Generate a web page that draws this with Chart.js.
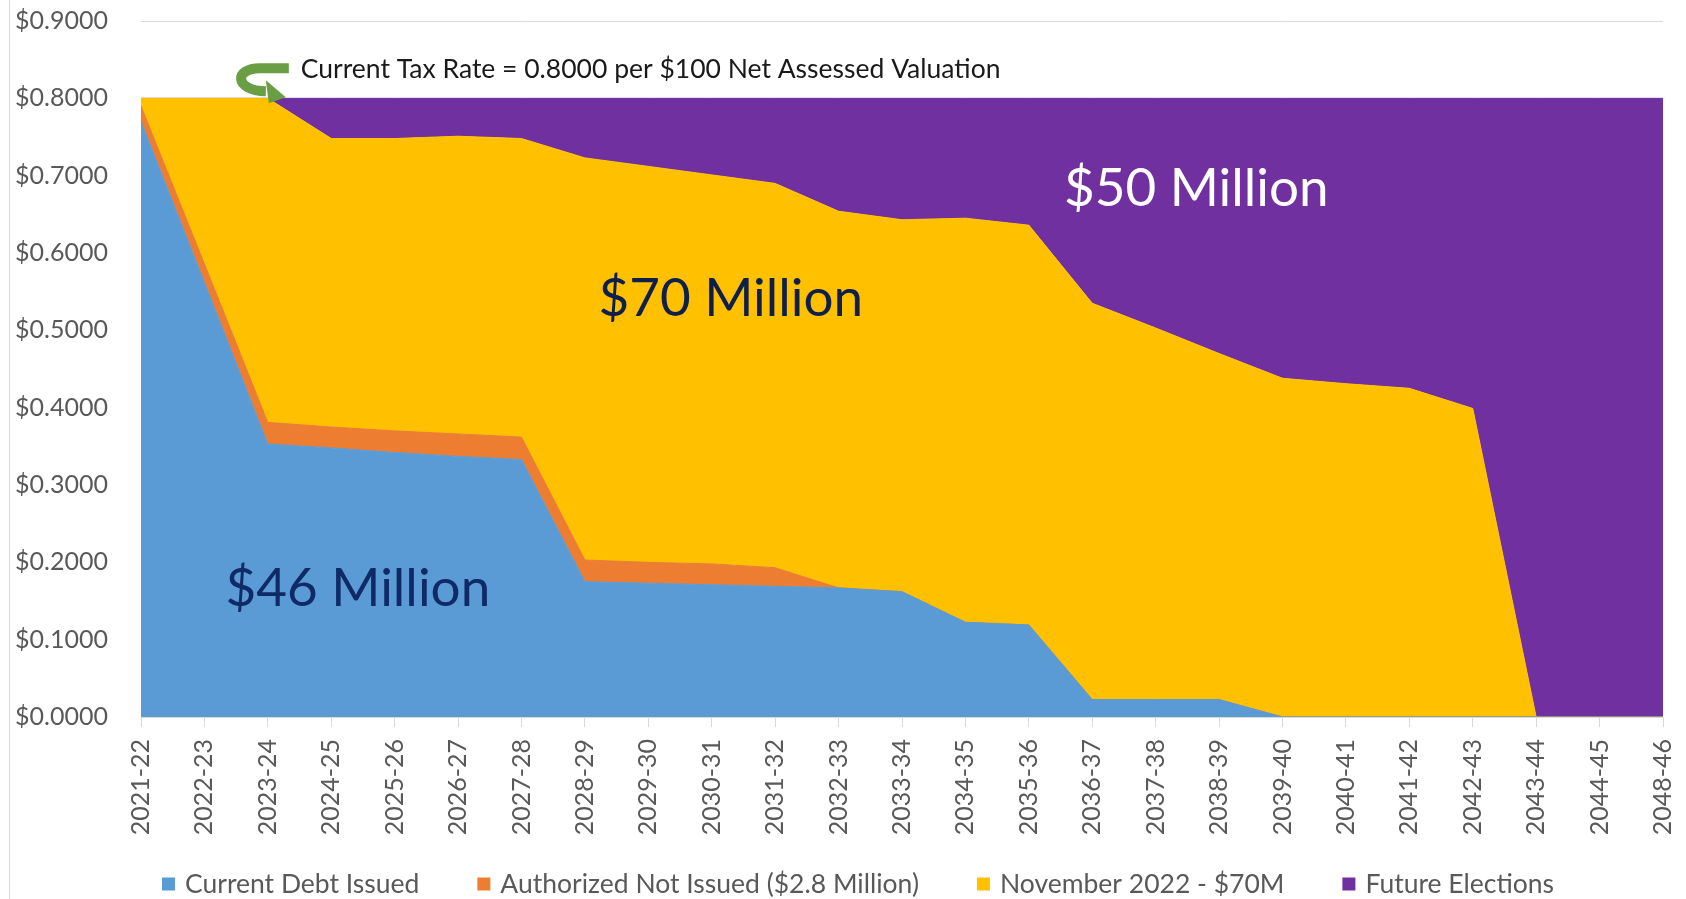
<!DOCTYPE html>
<html>
<head>
<meta charset="utf-8">
<script src="https://cdn.jsdelivr.net/npm/chart.js@4.4.1/dist/chart.umd.min.js"></script>
<style>
  html, body { margin: 0; padding: 0; background: #ffffff; }
  #wrap { width: 1686px; height: 899px; position: relative; }
</style>
</head>
<body>
<div id="wrap"><canvas id="taxChart"></canvas></div>
<script>
// fiscal years on the x axis
const years = ['2021-22', '2022-23', '2023-24', '2024-25', '2025-26', '2026-27', '2027-28', '2028-29',
    '2029-30', '2030-31', '2031-32', '2032-33', '2033-34', '2034-35', '2035-36', '2036-37', '2037-38',
    '2038-39', '2039-40', '2040-41', '2041-42', '2042-43', '2043-44', '2044-45', '2048-46'];

// tax rate per $100 for each layer (stacked)
const currentDebt = [0.770, 0.562, 0.353, 0.348, 0.342, 0.337, 0.333, 0.175, 0.173, 0.171, 0.169, 0.167,
    0.162, 0.1225, 0.119, 0.0225, 0.0225, 0.0225, 0, 0, 0, 0, 0, 0, 0];
const authorizedNotIssued = [0.020, 0.024, 0.028, 0.027, 0.028, 0.029, 0.029, 0.028, 0.027, 0.027, 0.024, 0,
    0, 0, 0, 0, 0, 0, 0, 0, 0, 0, 0, 0, 0];
const november2022 = [0.010, 0.214, 0.419, 0.373, 0.378, 0.385, 0.386, 0.520, 0.512, 0.503, 0.497, 0.487,
    0.481, 0.5225, 0.517, 0.5125, 0.4805, 0.4475, 0.438, 0.431, 0.425, 0.399, 0, 0, 0];
const futureElections = [0, 0, 0, 0.052, 0.052, 0.049, 0.052, 0.077, 0.088, 0.099, 0.110, 0.146,
    0.157, 0.155, 0.164, 0.265, 0.297, 0.330, 0.362, 0.369, 0.375, 0.401, 0.8, 0.8, 0.8];

const seriesNames = ['Current Debt Issued', 'Authorized Not Issued ($2.8 Million)', 'November 2022 - $70M', 'Future Elections'];
const seriesColors = ['#5B9BD5', '#ED7D31', '#FFC000', '#7030A0'];

const taxRateNote = 'Current Tax Rate = 0.8000 per $100 Net Assessed Valuation';

const FONT = 'Lato';
const GRAY = '#595959';

// text labels placed on the plot (x as category index, y as tax rate)
const areaLabels = [
    { text: '$46 Million', x: 3.42, y: 0.166, color: '#0f2a66' },
    { text: '$70 Million', x: 9.30, y: 0.541, color: '#0d1f4a' },
    { text: '$50 Million', x: 16.64, y: 0.683, color: '#ffffff' }
];

const makeSet = (i, data) => ({
    label: seriesNames[i],
    data: data,
    backgroundColor: seriesColors[i],
    borderColor: seriesColors[i],
    borderWidth: 1,
    pointRadius: 0,
    pointHoverRadius: 0,
    tension: 0,
    fill: i === 0 ? 'origin' : '-1'
});

// frame line, notes, arrow and bottom legend
const decorations = {
    id: 'decorations',
    beforeDraw(chart) {
        const ctx = chart.ctx;
        ctx.save();
        ctx.strokeStyle = '#d9d9d9';
        ctx.lineWidth = 1;
        ctx.beginPath();
        ctx.moveTo(9.5, 0);
        ctx.lineTo(9.5, chart.height);
        ctx.stroke();
        ctx.restore();
    },
    afterDatasetsDraw(chart) {
        const ctx = chart.ctx;
        const xs = chart.scales.x;
        const ys = chart.scales.y;
        ctx.save();

        // big area labels
        ctx.textAlign = 'center';
        ctx.textBaseline = 'middle';
        ctx.font = `53px ${FONT}`;
        areaLabels.forEach(l => {
            ctx.fillStyle = l.color;
            ctx.fillText(l.text, xs.getPixelForValue(l.x), ys.getPixelForValue(l.y));
        });

        // tax rate note
        ctx.textAlign = 'left';
        ctx.fillStyle = '#1a1a1a';
        ctx.font = `26.5px ${FONT}`;
        ctx.fillText(taxRateNote, xs.getPixelForValue(2.52), ys.getPixelForValue(0.837));

        // curved green arrow pointing at the 0.80 rate line
        const ax = xs.getPixelForValue(2);
        const ay = ys.getPixelForValue(0.8);
        ctx.strokeStyle = '#6a9e45';
        ctx.fillStyle = '#6a9e45';
        ctx.lineWidth = 10;
        ctx.lineCap = 'butt';
        ctx.beginPath();
        ctx.moveTo(ax + 21, ay - 30);
        ctx.lineTo(ax - 8, ay - 30);
        ctx.bezierCurveTo(ax - 34, ay - 30, ax - 34, ay - 8, ax - 2, ay - 7);
        ctx.stroke();
        ctx.beginPath();
        ctx.moveTo(ax - 2, ay - 18);
        ctx.lineTo(ax + 18, ay - 1);
        ctx.lineTo(ax + 1, ay + 5);
        ctx.closePath();
        ctx.fill();

        ctx.restore();
    },
    afterDraw(chart) {
        const ctx = chart.ctx;
        ctx.save();
        ctx.font = `26.5px ${FONT}`;
        ctx.textBaseline = 'middle';
        ctx.textAlign = 'left';
        const box = 13, gap = 10, itemGap = 58;
        const widths = chart.data.datasets.map(d => ctx.measureText(d.label).width);
        const total = widths.reduce((s, w) => s + box + gap + w, 0) + itemGap * (widths.length - 1);
        let x = 858 - total / 2;
        const y = 884;
        chart.data.datasets.forEach((d, i) => {
            ctx.fillStyle = d.backgroundColor;
            ctx.fillRect(x, y - box / 2, box, box);
            ctx.fillStyle = GRAY;
            ctx.fillText(d.label, x + box + gap, y);
            x += box + gap + widths[i] + itemGap;
        });
        ctx.restore();
    }
};

new Chart(document.getElementById('taxChart'), {
    type: 'line',
    data: {
        labels: years,
        datasets: [
            makeSet(0, currentDebt),
            makeSet(1, authorizedNotIssued),
            makeSet(2, november2022),
            makeSet(3, futureElections)
        ]
    },
    options: {
        responsive: true,
        maintainAspectRatio: false,
        animation: false,
        layout: { padding: { left: 11, right: 23, top: 21, bottom: 60 } },
        interaction: { mode: 'index', intersect: false },
        plugins: {
            legend: { display: false },
            tooltip: { enabled: false }
        },
        scales: {
            x: {
                offset: false,
                afterFit: s => {
                    s.height = 122;
                    s.paddingLeft = 0;
                    s.paddingRight = 0;
                },
                grid: {
                    drawOnChartArea: false,
                    drawTicks: true,
                    tickLength: 10,
                    color: '#d9d9d9'
                },
                border: { display: true, color: '#d9d9d9' },
                ticks: {
                    autoSkip: false,
                    minRotation: 90,
                    maxRotation: 90,
                    padding: 12,
                    color: GRAY,
                    font: { family: FONT, size: 25 }
                }
            },
            y: {
                stacked: true,
                min: 0,
                max: 0.9,
                afterFit: s => { s.width = 130; },
                grid: { color: '#d9d9d9', drawTicks: true, tickLength: 30, tickColor: 'rgba(0,0,0,0)' },
                border: { display: false },
                ticks: {
                    stepSize: 0.1,
                    padding: 3,
                    color: GRAY,
                    font: { family: FONT, size: 25 },
                    callback: v => '$' + Number(v).toFixed(4)
                }
            }
        }
    },
    plugins: [decorations]
});
</script>
</body>
</html>
